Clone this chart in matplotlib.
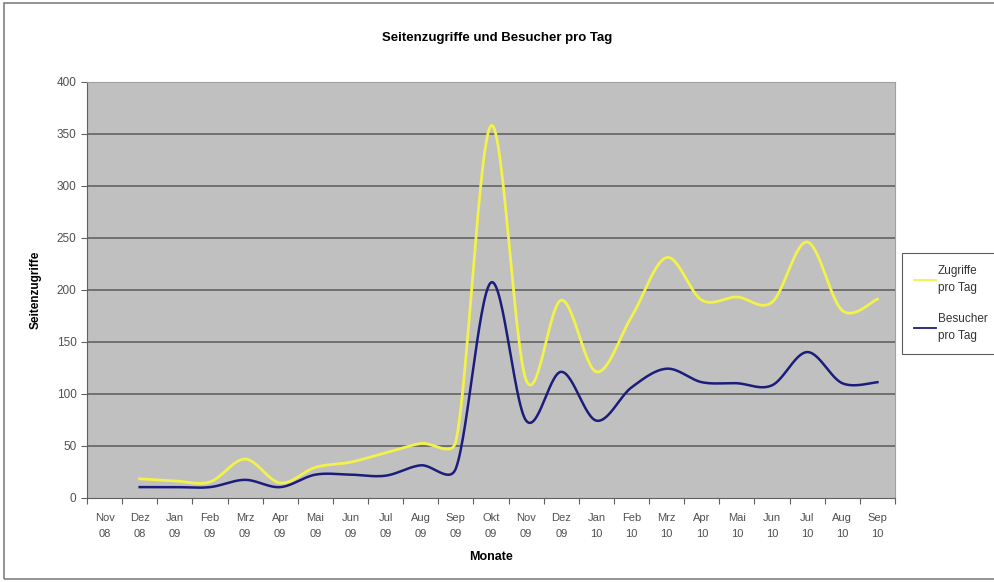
import numpy as np
import matplotlib.pyplot as plt
from matplotlib.patches import Rectangle

plt.rcParams['font.family'] = ['Liberation Sans', 'DejaVu Sans']

# Monate (Kategorien)
months = ['Nov\n08', 'Dez\n08', 'Jan\n09', 'Feb\n09', 'Mrz\n09', 'Apr\n09', 'Mai\n09',
          'Jun\n09', 'Jul\n09', 'Aug\n09', 'Sep\n09', 'Okt\n09', 'Nov\n09', 'Dez\n09',
          'Jan\n10', 'Feb\n10', 'Mrz\n10', 'Apr\n10', 'Mai\n10', 'Jun\n10', 'Jul\n10',
          'Aug\n10', 'Sep\n10']

# Werte ab Dez 08 (Nov 08 ohne Daten)
zugriffe = [18, 16, 15, 37, 14, 29, 34, 43, 52, 54, 358, 113, 190, 121, 174, 231,
            190, 193, 188, 246, 180, 191]
besucher = [10, 10, 10, 17, 10, 22, 22, 21, 31, 28, 207, 74, 121, 74, 106, 124,
            111, 110, 108, 140, 110, 111]
first = 1

# Pixel pro Einheit, damit die Glaettung im Bildraum gerechnet wird
XS, YS = 35.0, 1.04


def smooth(x, y, n=30):
    # Bezier-Glaettung wie in Excel: Griff = (P2-P0)/6, hoechstens halbe Segmentlaenge
    P = np.column_stack([np.asarray(x, float) * XS, np.asarray(y, float) * YS])
    m = len(P)
    t = np.linspace(0, 1, n, endpoint=False)[:, None]
    pts = []
    for i in range(m - 1):
        p0 = P[max(i - 1, 0)]
        p1, p2 = P[i], P[i + 1]
        p3 = P[min(i + 2, m - 1)]
        d12 = np.linalg.norm(p2 - p1)
        v1 = (p2 - p0) / 6.0
        v2 = (p3 - p1) / 6.0
        if np.linalg.norm(v1) > d12 / 2:
            v1 = v1 / np.linalg.norm(v1) * d12 / 2
        if np.linalg.norm(v2) > d12 / 2:
            v2 = v2 / np.linalg.norm(v2) * d12 / 2
        c1 = p1 + v1
        c2 = p2 - v2
        seg = ((1 - t) ** 3) * p1 + 3 * ((1 - t) ** 2) * t * c1 + 3 * (1 - t) * t ** 2 * c2 + t ** 3 * p2
        pts.append(seg)
    pts.append(P[-1:])
    pts = np.vstack(pts)
    return pts[:, 0] / XS, pts[:, 1] / YS


fig = plt.figure(figsize=(9.95, 5.82), dpi=100)
fig.patches.append(Rectangle((4 / 995, 3 / 582), 1.1, 576 / 582, transform=fig.transFigure,
                             fill=False, edgecolor='#808080', linewidth=1.2))
ax = fig.add_axes([87 / 995, 1 - 497.5 / 582, (895 - 87) / 995, (497.5 - 82) / 582])
ax.set_facecolor('#c0c0c0')

xpos = np.arange(len(zugriffe)) + first + 0.5
sx, sy = smooth(xpos, zugriffe)
ax.plot(sx, sy, color='#f2f24a', lw=2.0, label='Zugriffe\npro Tag', zorder=3)
sx, sy = smooth(xpos, besucher)
ax.plot(sx, sy, color='#1c1c7c', lw=1.8, label='Besucher\npro Tag', zorder=3)

ax.set_xlim(0, len(months))
ax.set_ylim(0, 400)
ax.set_yticks(np.arange(0, 401, 50))
for v in range(50, 401, 50):
    ax.axhline(v, color='#6a6a6a', lw=1.3, zorder=1)

ax.set_xticks(np.arange(0, len(months) + 1))
ax.set_xticklabels([])
ax.set_xticks(np.arange(len(months)) + 0.5, minor=True)
ax.set_xticklabels(months, minor=True, linespacing=1.75)
ax.tick_params(axis='x', which='major', direction='out', length=4, color='#606060')
ax.tick_params(axis='x', which='minor', length=0, pad=11, labelsize=8, labelcolor='#505050')
ax.tick_params(axis='y', direction='out', length=4, color='#606060', labelsize=8.5,
               labelcolor='#505050')

for s in ['left', 'bottom']:
    ax.spines[s].set_color('#606060')
for s in ['top', 'right']:
    ax.spines[s].set_color('#a0a0a0')

ax.set_xlabel('Monate', fontsize=9, fontweight='bold', labelpad=9)
ax.set_ylabel('Seitenzugriffe', fontsize=8.5, fontweight='bold', labelpad=11)
fig.text(0.5, 1 - 38 / 582, 'Seitenzugriffe und Besucher pro Tag', ha='center', va='center',
         fontsize=9.5, fontweight='bold')

leg = fig.legend(loc='upper left', bbox_to_anchor=(902 / 995, 1 - 253 / 582), fontsize=8.5,
                 frameon=True, fancybox=False, edgecolor='#333333', handlelength=1.9,
                 handletextpad=0.15, borderpad=1.0, labelspacing=1.6, labelcolor='#333333',
                 borderaxespad=0)
leg.get_frame().set_linewidth(0.8)
for h in leg.get_lines():
    h.set_linewidth(1.3)
for tx in leg.get_texts():
    tx.set_linespacing(1.6)

fig.savefig('out.png', dpi=100)
